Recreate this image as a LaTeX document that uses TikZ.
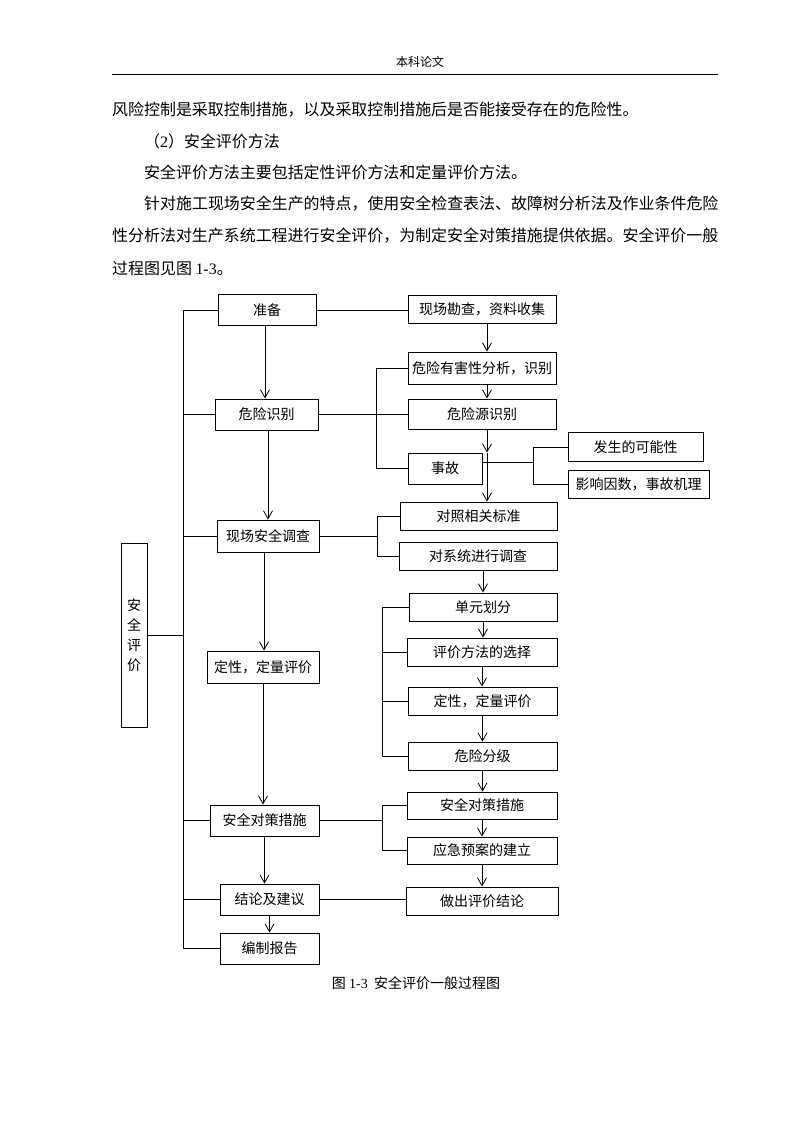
\documentclass[tikz,border=0pt]{standalone}
\usepackage{fontspec}
\setmainfont{Liberation Serif}
\newfontfamily\cjk{Noto Sans CJK SC}
\newcommand{\lat}[1]{{\rmfamily #1}}
\usetikzlibrary{arrows.meta}

\begin{document}
\begin{tikzpicture}[x=1pt,y=-1pt,>={Straight Barb[length=8pt,width=9pt]},
  box/.style={draw,line width=0.9pt,inner sep=0pt,align=center,font=\cjk\fontsize{14}{16}\selectfont},
  para/.style={anchor=west,inner sep=0pt,font=\cjk\fontsize{15.95}{20}\selectfont},
  link/.style={line width=0.8pt},
  arr/.style={->,line width=0.8pt}]
\useasboundingbox (0,0) rectangle (793,1122);
\node[font=\cjk\fontsize{12}{14}\selectfont] (hdr) at (420,62) {本科论文};
\draw[line width=1pt] (112,74) -- (718,74);
\node[para] (l1) at (112,110) {风险控制是采取控制措施，以及采取控制措施后是否能接受存在的危险性。};
\node[para] (l2) at (144,141) {（\lat{2}）安全评价方法};
\node[para] (l3) at (144,172) {安全评价方法主要包括定性评价方法和定量评价方法。};
\node[para] (l4) at (144,204) {针对施工现场安全生产的特点，使用安全检查表法、故障树分析法及作业条件危险};
\node[para] (l5) at (112,236) {性分析法对生产系统工程进行安全评价，为制定安全对策措施提供依据。安全评价一般};
\node[para] (l6) at (112,268) {过程图见图 \lat{1-3}。};
\node[box,minimum width=98pt,minimum height=31pt] (prep) at (267,310) {准备};
\node[box,minimum width=148pt,minimum height=28pt] (survey) at (482,309) {现场勘查，资料收集};
\node[box,minimum width=148pt,minimum height=32pt] (hazana) at (482,368) {危险有害性分析，识别};
\node[box,minimum width=103pt,minimum height=31pt] (hazid) at (266.5,414.5) {危险识别};
\node[box,minimum width=148pt,minimum height=30pt] (hsrc) at (482,414) {危险源识别};
\node[box,minimum width=74pt,minimum height=31pt] (acc) at (445,468.5) {事故};
\node[box,minimum width=135pt,minimum height=29pt] (poss) at (635.5,447) {发生的可能性};
\node[box,minimum width=141pt,minimum height=28pt] (infl) at (638.5,484) {影响因数，事故机理};
\node[box,minimum width=157pt,minimum height=28pt] (cmp) at (478.5,516) {对照相关标准};
\node[box,minimum width=102pt,minimum height=32pt] (site) at (268,536) {现场安全调查};
\node[box,minimum width=158pt,minimum height=28pt] (sys) at (478,556) {对系统进行调查};
\node[box,minimum width=148pt,minimum height=28pt] (unit) at (483,607) {单元划分};
\node[box,minimum width=150pt,minimum height=28pt] (meth) at (482,652) {评价方法的选择};
\node[box,minimum width=112pt,minimum height=32pt] (qual) at (263,667) {定性，定量评价};
\node[box,minimum width=149pt,minimum height=28pt] (qualr) at (482.5,701) {定性，定量评价};
\node[box,minimum width=149pt,minimum height=28pt] (grade) at (482.5,756) {危险分级};
\node[box,minimum width=26pt,minimum height=184pt,font=\cjk\fontsize{14}{20}\selectfont] (safe) at (134,635) {安\\全\\评\\价};
\node[box,minimum width=109pt,minimum height=31pt] (ctrl) at (264.5,820.5) {安全对策措施};
\node[box,minimum width=150pt,minimum height=27pt] (ctrlr) at (482,805.5) {安全对策措施};
\node[box,minimum width=150pt,minimum height=27pt] (emer) at (482,850.5) {应急预案的建立};
\node[box,minimum width=99pt,minimum height=31pt] (concl) at (269.5,899.5) {结论及建议};
\node[box,minimum width=152pt,minimum height=28pt] (concr) at (482,901) {做出评价结论};
\node[box,minimum width=99pt,minimum height=31pt] (rep) at (269.5,948.5) {编制报告};
\node[font=\cjk\fontsize{14}{16}\selectfont] (cap) at (416,983) {图 \lat{1-3}\ \ 安全评价一般过程图};
\coordinate (busL) at (183,0);
\coordinate (spA) at (376.5,0);
\coordinate (spB) at (377,0);
\coordinate (spC) at (382,0);
\coordinate (spD) at (533,0);
\draw[link] (prep.west -| busL) -- (rep.west -| busL);
\foreach \n in {prep,hazid,site,ctrl,concl,rep}
  \draw[link] (\n.west) -- (\n.west -| busL);
\draw[link] (safe.east) -- (safe.east -| busL);
\draw[link] (prep.east) -- (survey.west |- prep.east);
\draw[link] (hazid.east) -- (hsrc.west |- hazid.east);
\draw[link] (hazana.west) -- (hazana.west -| spA) -- (acc.west -| spA) -- (acc.west);
\draw[link] ([yshift=6.5pt]acc.east) -- ([yshift=6.5pt]acc.east -| spD);
\draw[link] (poss.west) -- (poss.west -| spD) -- (infl.west -| spD) -- (infl.west);
\draw[link] (site.east) -- (site.east -| spB);
\draw[link] (cmp.west) -- (cmp.west -| spB) -- (sys.west -| spB) -- (sys.west);
\draw[link] (unit.west) -- (unit.west -| spC) -- (grade.west -| spC) -- (grade.west);
\draw[link] (meth.west) -- (meth.west -| spC);
\draw[link] (qualr.west) -- (qualr.west -| spC);
\draw[link] (ctrl.east) -- (ctrl.east -| spC);
\draw[link] (ctrlr.west) -- (ctrlr.west -| spC) -- (emer.west -| spC) -- (emer.west);
\draw[link] (concl.east) -- (concr.west |- concl.east);
\draw[arr] ([xshift=-2pt]prep.south) -- ([xshift=-2pt]prep.south |- hazid.north);
\draw[arr] ([xshift=1.5pt]hazid.south) -- ([xshift=1.5pt]hazid.south |- site.north);
\draw[arr] ([xshift=-4pt]site.south) -- ([xshift=-4pt]site.south |- qual.north);
\draw[arr] (qual.south) -- (qual.south |- ctrl.north);
\draw[arr] (ctrl.south) -- (ctrl.south |- concl.north);
\draw[arr] (concl.south) -- (concl.south |- rep.north);
\draw[arr] ([xshift=5pt]survey.south) -- ([xshift=5pt]survey.south |- hazana.north);
\draw[arr] ([xshift=5pt]hazana.south) -- ([xshift=5pt]hazana.south |- hsrc.north);
\coordinate (mid) at ([xshift=5pt]hsrc.south |- acc.north);
\draw[arr] ([xshift=5pt]hsrc.south) -- (mid);
\draw[arr] (mid) -- (mid |- cmp.north);
\draw[arr] (sys.south -| unit) -- (unit.north);
\draw[arr] (unit.south) -- (unit.south |- meth.north);
\draw[arr] (meth.south) -- (meth.south |- qualr.north);
\draw[arr] (qualr.south) -- (qualr.south |- grade.north);
\draw[arr] (grade.south) -- (grade.south |- ctrlr.north);
\draw[arr] (ctrlr.south) -- (ctrlr.south |- emer.north);
\draw[arr] (emer.south) -- (emer.south |- concr.north);
\end{tikzpicture}
\end{document}
